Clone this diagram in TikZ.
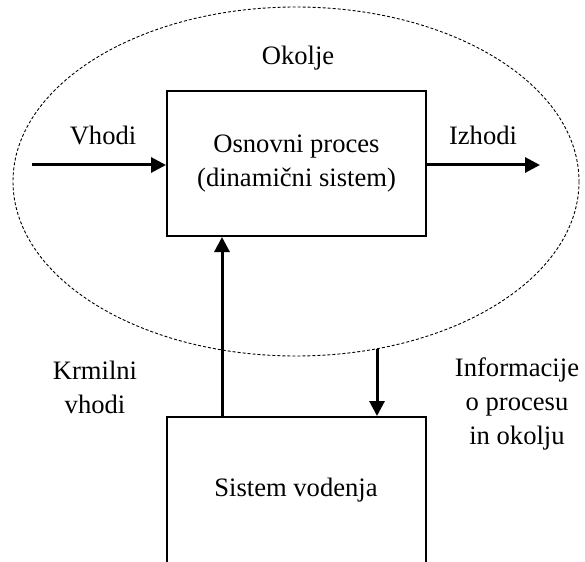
\documentclass[tikz,border=0pt]{standalone}
\usepackage{fontspec}
\setmainfont{Liberation Serif}
\usetikzlibrary{arrows.meta}
\begin{document}
\begin{tikzpicture}[x=1pt,y=-1pt,
  txt/.style={font=\fontsize{26.6}{34}\selectfont, align=center, inner sep=0pt},
  blockbox/.style={draw, line width=2pt, inner sep=0pt},
  env/.style={draw, line width=0.9pt, dash pattern=on 3pt off 2pt},
  flow/.style={line width=3pt, -{Triangle[length=15pt,width=15pt]}}]
  \clip (0,0) rectangle (585,561);
  % environment boundary
  \draw[env] (296,181.5) ellipse [x radius=283, y radius=174.5];
  \node[txt] (okolje) at (298,58) {Okolje};
  % main process
  \node[blockbox, txt, minimum width=259, minimum height=145] (proc) at (296.5,163.5)
    {Osnovni proces\\(dinami\v{c}ni sistem)};
  % control system, open at the lower edge
  \node[blockbox, minimum width=259, minimum height=190] (ctrl) at (296.5,512) {};
  \node[txt] (ctrltext) at (296,490) {Sistem vodenja};
  % inputs and outputs
  \coordinate (inp) at (32,165);
  \coordinate (outp) at (540,165);
  \draw[flow] (inp) -- (proc.west |- inp);
  \draw[flow] (proc.east |- outp) -- (outp);
  \node[txt] (vhodi) at (103,135) {Vhodi};
  \node[txt] (izhodi) at (483,135) {Izhodi};
  % feedback loop
  \coordinate (ctrlin) at (222,417);
  \coordinate (info) at (377,348.5);
  \draw[flow] (ctrlin) -- (proc.south -| ctrlin);
  \draw[flow] (info) -- (ctrl.north -| info);
  \node[txt] (krm) at (95,387) {Krmilni\\vhodi};
  \node[txt] (inf) at (517,404) {Informacije\\o procesu\\in okolju};
\end{tikzpicture}
\end{document}
